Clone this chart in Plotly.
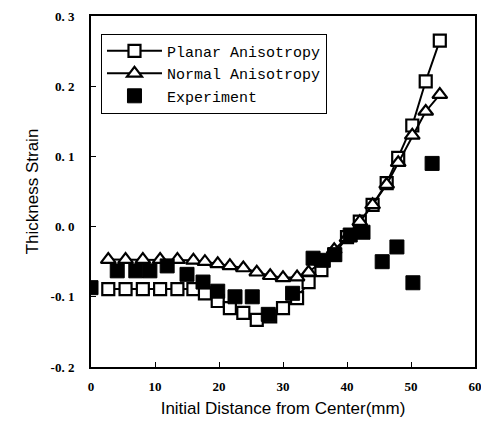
import plotly.graph_objects as go

# Model nodes (mm)
model_x = [2.7, 5.4, 8.1, 10.8, 13.5, 16.0, 17.8, 19.8, 21.7, 23.8, 25.9, 28.0, 30.0,
           32.2, 34.0, 36.0, 38.0, 40.0, 42.0, 44.0, 46.2, 48.0, 50.2, 52.3, 54.5]
planar_y = [-0.089, -0.089, -0.089, -0.089, -0.089, -0.089, -0.095, -0.106, -0.116, -0.123,
            -0.133, -0.128, -0.116, -0.102, -0.079, -0.062, -0.040, -0.015, 0.007, 0.031,
            0.062, 0.098, 0.144, 0.207, 0.265]
normal_y = [-0.047, -0.047, -0.047, -0.047, -0.047, -0.048, -0.050, -0.053, -0.056, -0.059,
            -0.065, -0.070, -0.073, -0.072, -0.065, -0.050, -0.033, -0.016, 0.007, 0.031,
            0.060, 0.091, 0.130, 0.164, 0.188]

exp_x = [0.0, 4.1, 7.0, 9.2, 11.9, 15.0, 17.5, 19.8, 22.5, 25.2, 27.7, 31.5,
         34.7, 36.3, 38.1, 40.5, 42.5, 45.5, 47.8, 50.3, 53.3]
exp_y = [-0.087, -0.063, -0.063, -0.063, -0.056, -0.068, -0.079, -0.092, -0.100, -0.100,
         -0.125, -0.095, -0.045, -0.048, -0.040, -0.012, -0.008, -0.050, -0.029, -0.080, 0.090]

x_ticks = [0, 10, 20, 30, 40, 50, 60]
y_ticks = [-0.2, -0.1, 0.0, 0.1, 0.2, 0.3]
y_tick_text = ["-0. 2", "-0. 1", "0. 0", "0. 1", "0. 2", "0. 3"]

fig = go.Figure()
fig.add_trace(go.Scatter(
    x=model_x, y=planar_y, mode="lines+markers", name="Planar Anisotropy",
    line=dict(color="black", width=2),
    marker=dict(symbol="square", size=12, color="white", line=dict(color="black", width=2.2))))
fig.add_trace(go.Scatter(
    x=model_x, y=normal_y, mode="lines+markers", name="Normal Anisotropy",
    line=dict(color="black", width=2),
    marker=dict(symbol="triangle-up", size=13, color="white", line=dict(color="black", width=2.2))))
fig.add_trace(go.Scatter(
    x=exp_x, y=exp_y, mode="markers", name="Experiment",
    marker=dict(symbol="square", size=14, color="black", line=dict(color="black", width=1))))

tick_font = dict(family="Liberation Serif", size=13, color="black", weight="bold")
fig.update_layout(
    template="none",
    width=481, height=425,
    margin=dict(l=83, r=14, t=8, b=66),
    paper_bgcolor="white", plot_bgcolor="white",
    showlegend=True,
    legend=dict(x=0.026, y=0.95, xanchor="left", yanchor="top",
                bgcolor="white", bordercolor="black", borderwidth=1,
                font=dict(family="Liberation Mono", size=15, color="black"),
                tracegroupgap=0, itemwidth=55),
    xaxis=dict(range=[0, 60], tickvals=x_ticks, ticktext=[str(v) for v in x_ticks],
               automargin=False, ticklabeloverflow="allow",
               showgrid=False, zeroline=False, showline=True, linecolor="black", linewidth=2,
               mirror=True, ticks="inside", ticklen=5, tickcolor="black", tickwidth=1,
               tickfont=tick_font, ticklabelstandoff=6,
               title=dict(text="Initial Distance from Center(mm)",
                          font=dict(family="Liberation Sans", size=17, color="black"), standoff=10)),
    yaxis=dict(range=[-0.2, 0.3], tickvals=y_ticks, ticktext=y_tick_text,
               automargin=False, ticklabeloverflow="allow",
               showgrid=False, zeroline=False, showline=True, linecolor="black", linewidth=2,
               mirror=True, ticks="inside", ticklen=5, tickcolor="black", tickwidth=1,
               tickfont=tick_font, ticklabelstandoff=12,
               title=dict(text="Thickness Strain",
                          font=dict(family="Liberation Sans", size=17, color="black"), standoff=8)),
)
fig.write_html("out.html")
